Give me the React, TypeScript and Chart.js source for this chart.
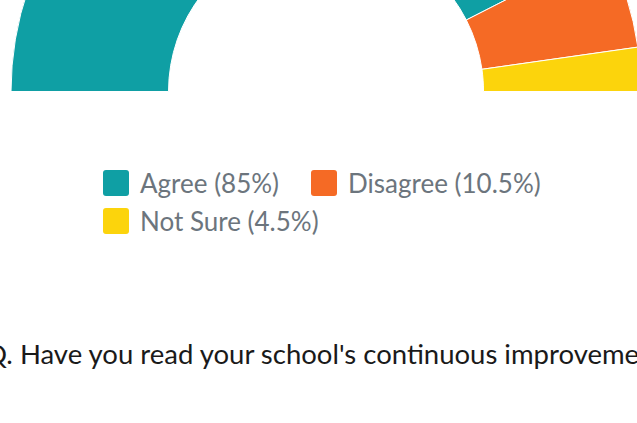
import React, { useEffect, useRef } from "react";
import { Chart, registerables } from "chart.js";

Chart.register(...registerables);

const categories = ["Agree", "Disagree", "Not Sure"];
const values = [85, 10.5, 4.5];
const colors = ["#0F9FA4", "#F56A25", "#FCD40C"];
const legendLabels = ["Agree (85%)", "Disagree (10.5%)", "Not Sure (4.5%)"];
const titleText = "Q. Have you read your school's continuous improvement plan?";

const FONT = "Lato, 'Noto Sans', sans-serif";

export default function App() {
  const ref = useRef<HTMLCanvasElement | null>(null);

  useEffect(() => {
    if (!ref.current) return;
    const chart = new Chart(ref.current, {
      type: "doughnut",
      data: {
        labels: categories,
        datasets: [
          {
            data: values,
            backgroundColor: colors,
            borderColor: "#ffffff",
            borderWidth: 1,
            clip: false as any,
          },
        ],
      },
      options: {
        responsive: false,
        animation: false,
        rotation: -90,
        circumference: 180,
        cutout: "50%",
        layout: { padding: 0 },
        plugins: {
          legend: { display: false },
          title: { display: false },
          tooltip: { enabled: false },
        },
      },
    });
    return () => chart.destroy();
  }, []);

  return (
    <div
      style={{
        position: "absolute",
        left: 0,
        top: 0,
        width: 637,
        height: 423,
        overflow: "hidden",
        background: "#ffffff",
        fontFamily: FONT,
      }}
    >
      <div style={{ position: "absolute", left: -14.5, top: -224 }}>
        <canvas ref={ref} width={680} height={316} style={{ display: "block" }} />
      </div>
      <div
        style={{
          position: "absolute",
          left: 103,
          top: 170,
          width: 480,
          display: "flex",
          flexWrap: "wrap",
        }}
      >
        {legendLabels.map((label, i) => (
          <div
            key={label}
            style={{
              display: "flex",
              alignItems: "center",
              height: 26,
              marginRight: 32,
              marginBottom: 12,
            }}
          >
            <span
              style={{
                display: "inline-block",
                width: 26,
                height: 26,
                borderRadius: 3,
                background: colors[i],
                marginRight: 11,
              }}
            />
            <span
              style={{
                fontSize: 26,
                lineHeight: "26px",
                color: "#6C757D",
                whiteSpace: "nowrap",
              }}
            >
              {label}
            </span>
          </div>
        ))}
      </div>
      <div
        style={{
          position: "absolute",
          left: -15,
          top: 340,
          fontSize: 27.5,
          lineHeight: "27.5px",
          color: "#1A1A1A",
          whiteSpace: "nowrap",
        }}
      >
        {titleText}
      </div>
    </div>
  );
}
